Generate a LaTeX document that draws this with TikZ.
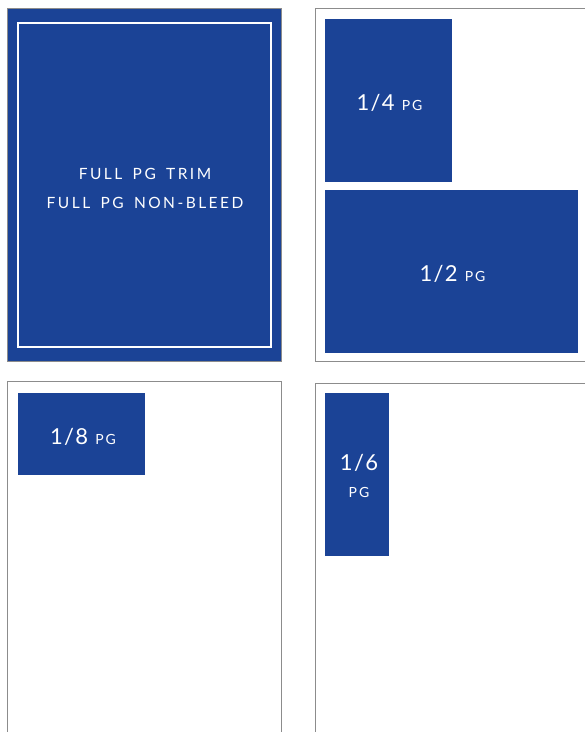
\documentclass[tikz,border=0pt]{standalone}
\usepackage{fontspec}
\setmainfont{Lato}
\newfontfamily\spaced[LetterSpace=16,WordSpace=1.6]{Lato}
\newfontfamily\spacedp[LetterSpace=14]{Lato}
\newfontfamily\spacedb[LetterSpace=6]{Lato}
\definecolor{adblue}{HTML}{1B4396}
\definecolor{pagegray}{HTML}{8C8C8C}
\tikzset{
  page/.style={draw=pagegray, line width=1pt},
  adblock/.style={fill=adblue, draw=none},
  lbl/.style={text=white, inner sep=0pt, align=center},
}
\newcommand{\numfont}{\fontsize{22}{22}\selectfont\spacedb}
\newcommand{\pgfontx}{\fontsize{14}{14}\selectfont\spacedp}
\begin{document}
\begin{tikzpicture}[x=1pt,y=-1pt]
\useasboundingbox (0,0) rectangle (585,732);
% panels
\path[page] (585,8.5) -- (315.5,8.5) -- (315.5,361) -- (585,361);
\path[page] (585,383) -- (315.5,383) -- (315.5,740);
\path[page] (7.5,740) -- (7.5,381.5) -- (281,381.5) -- (281,740);
% full page
\path[page, fill=adblue] (7.5,8.5) rectangle (281,361);
\draw[white, line width=2pt] (18,23) rectangle (271,347);
\node[lbl, font=\fontsize{15.5}{29}\selectfont\spaced] (full) at (145,188.5) {FULL PG TRIM\\FULL PG NON-BLEED};
% quarter
\path[adblock] (325,19) rectangle (452,181.5);
\node[lbl] (q) at (389.5,103) {\numfont 1/4\hspace{7pt}\pgfontx PG};
% half
\path[adblock] (325,190) rectangle (578,353);
\node[lbl] (h) at (452.5,273.5) {\numfont 1/2\hspace{7pt}\pgfontx PG};
% eighth
\path[adblock] (18,393) rectangle (145,474.5);
\node[lbl] (e) at (83,436.5) {\numfont 1/8\hspace{7pt}\pgfontx PG};
% sixth
\path[adblock] (325,393) rectangle (389,556);
\node[lbl] (s1) at (359,463) {\numfont 1/6};
\node[lbl] (s2) at (359,492.5) {\pgfontx PG};
\end{tikzpicture}
\end{document}
